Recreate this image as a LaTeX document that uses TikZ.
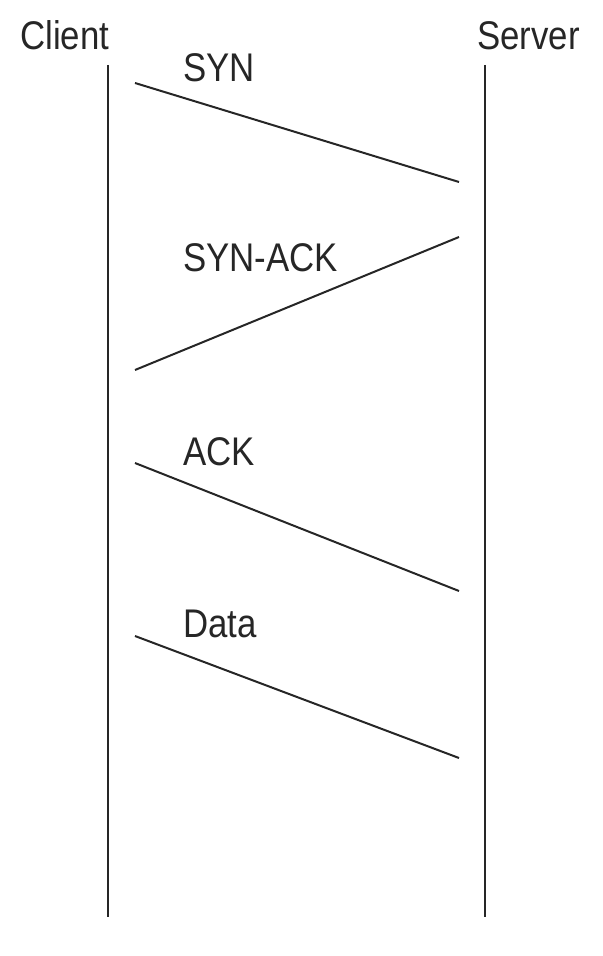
\documentclass[tikz,border=0pt]{standalone}
\usepackage{fontspec}
\setmainfont{Liberation Sans}[FakeStretch=0.87]
\usepackage{tikz}
\usetikzlibrary{positioning}

\begin{document}
\begin{tikzpicture}[x=0.5pt,y=-0.5pt]

\tikzset{hostlabel/.style={font=\fontsize{20}{24}\selectfont,inner sep=0pt,anchor=base west,text=black!85},
msglabel/.style={hostlabel},
lifeline/.style={line width=1pt,draw=black!85},
msgline/.style={line width=1pt,draw=black!85}}

\useasboundingbox (0,0) rectangle (602,956);

% Hosts
\node[hostlabel] (client) at (20,50) {Client};
\node[hostlabel] (server) at (477,50) {Server};

% Lifelines
\coordinate (clientTop) at (108,65);
\coordinate (clientBot) at (108,917);
\coordinate (serverTop) at (485,65);
\coordinate (serverBot) at (485,917);
\draw[lifeline] (clientTop) -- (clientBot);
\draw[lifeline] (serverTop) -- (serverBot);

% Messages
\foreach \n/\ya/\yb in {syn/83/182, synack/370/237, ack/463/591, data/636/758} {
  \coordinate (\n C) at (135,\ya);
  \coordinate (\n S) at (459,\yb);
  \draw[msgline] (\n C) -- (\n S);
}
\foreach \n/\y/\t in {syn/82/SYN, synack/272/SYN-ACK, ack/465/ACK, data/637/Data} \node[msglabel] (\n label) at (183,\y) {\t};

\end{tikzpicture}
\end{document}
